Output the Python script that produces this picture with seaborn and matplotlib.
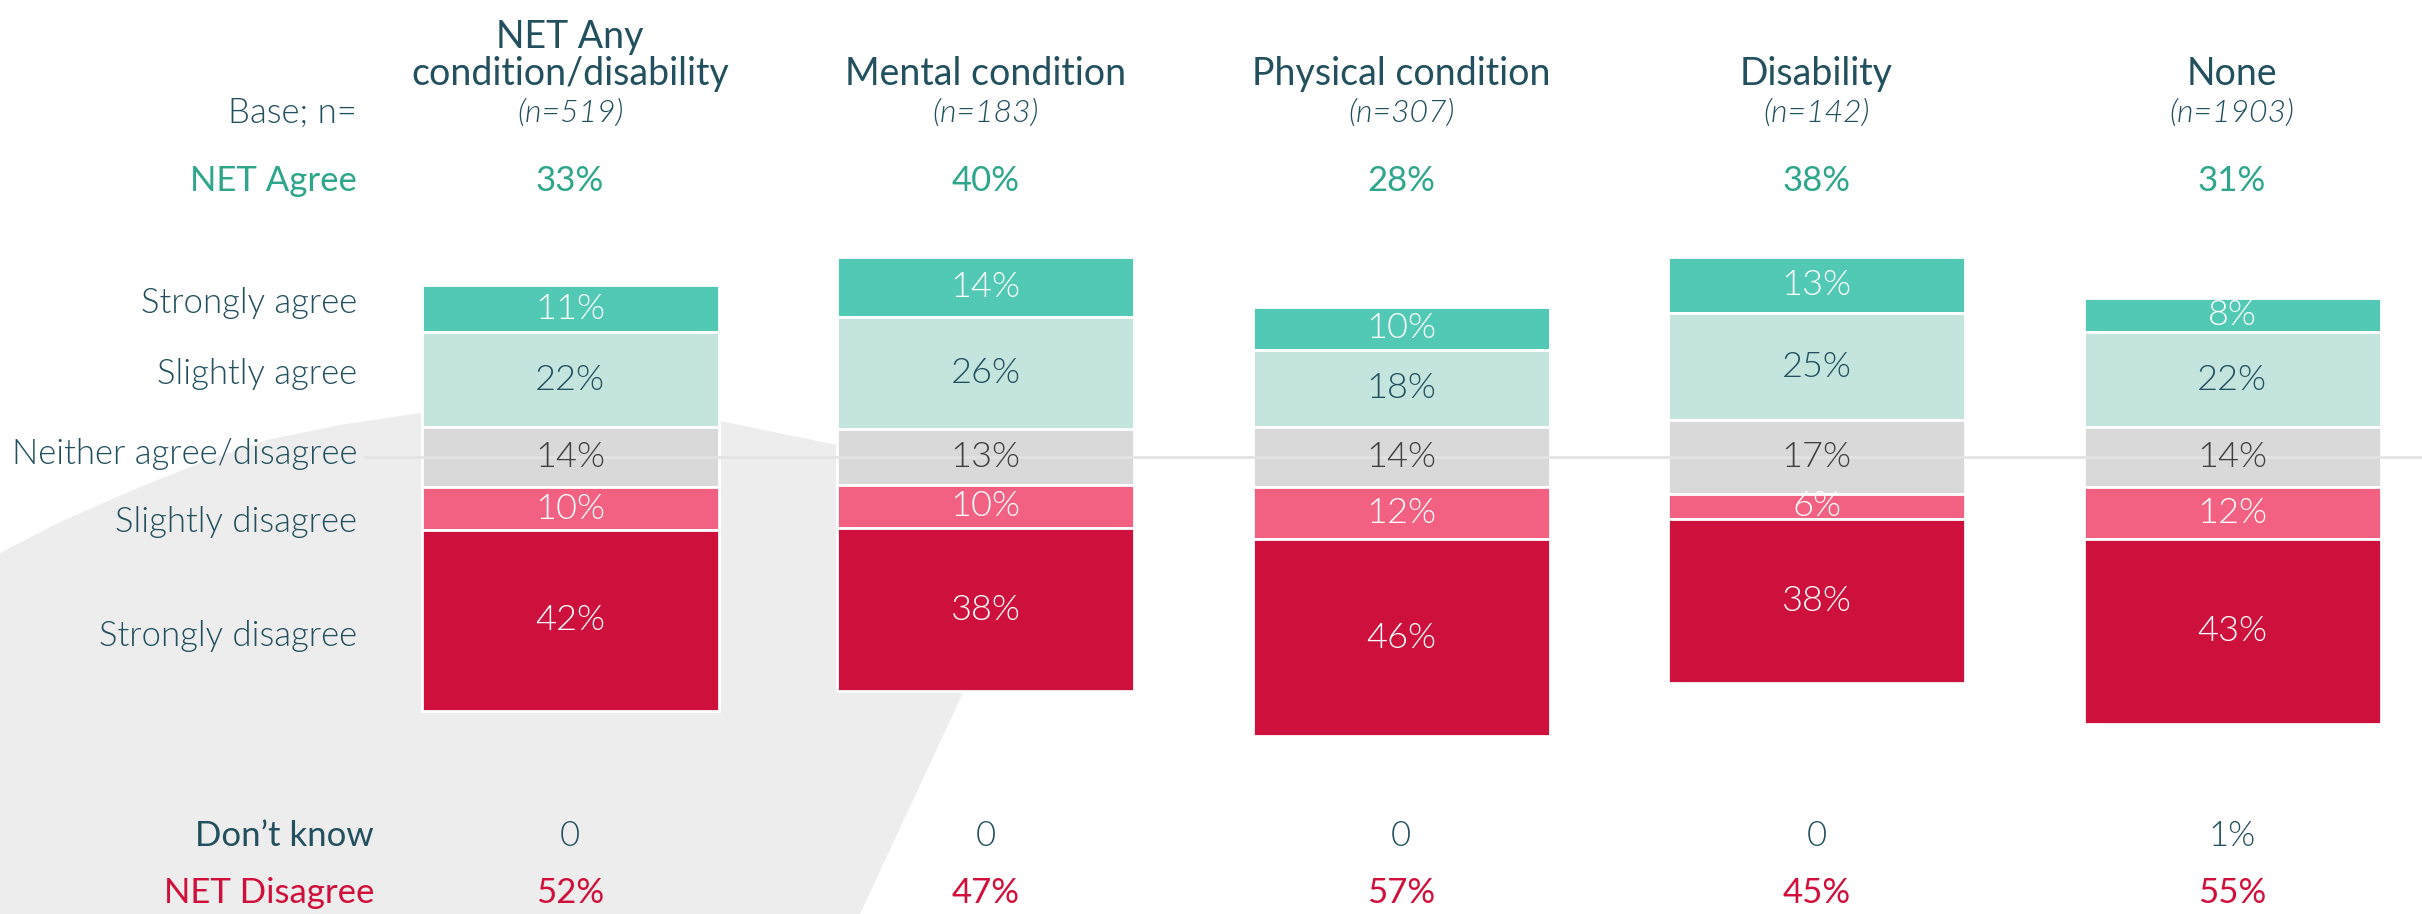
import numpy as np
import pandas as pd
import matplotlib
matplotlib.use("Agg")
import matplotlib.pyplot as plt
import matplotlib.transforms as mtransforms
from matplotlib.patches import Polygon
import seaborn as sns

# data
groups = ["NET Any\ncondition/disability", "Mental condition", "Physical condition", "Disability", "None"]
base_n = [519, 183, 307, 142, 1903]
strongly_agree = [11, 14, 10, 13, 8]
slightly_agree = [22, 26, 18, 25, 22]
neither = [14, 13, 14, 17, 14]
slightly_disagree = [10, 10, 12, 6, 12]
strongly_disagree = [42, 38, 46, 38, 43]
net_agree = [33, 40, 28, 38, 31]
net_disagree = [52, 47, 57, 45, 55]
dont_know = ["0", "0", "0", "0", "1%"]
row_labels = ["Strongly agree", "Slightly agree", "Neither agree/disagree",
              "Slightly disagree", "Strongly disagree"]

sns.set_theme(style="white")
plt.rcParams['font.family'] = ['Lato', 'DejaVu Sans']

TEAL = "#22505F"
GREEN = "#2EA68C"
RED = "#D0103A"
colors = ["#52C9B4", "#C3E5DD", "#D9D9D9", "#F26181", "#CE113C"]
label_colors = ["white", TEAL, "#404040", "white", "white"]
LIGHT = 300

W, H = 2422, 914
fig = plt.figure(figsize=(W / 100, H / 100), dpi=100)
ax = fig.add_axes([0, 0, 1, 1])

# decorative grey swoosh in the background (pixel outline -> axes fraction)
blob = np.array([(0, 553), (60, 522), (133, 490), (200, 463), (267, 440), (340, 425),
                 (420, 413), (520, 409), (620, 413), (720, 421), (837, 445),
                 (962, 695), (860, 914), (0, 914)], dtype=float)
blob[:, 0] /= W
blob[:, 1] = 1 - blob[:, 1] / H
ax.add_patch(Polygon(blob, closed=True, transform=ax.transAxes,
                     facecolor="#EDEDED", edgecolor="none", zorder=0))

# diverging stack centred on the middle of "neither"
sa = np.array(strongly_agree)
sla = np.array(slightly_agree)
nn = np.array(neither)
sld = np.array(slightly_disagree)
sd = np.array(strongly_disagree)
half = nn / 2
segments = [
    (sa, half + sla),
    (sla, half),
    (nn, -half),
    (sld, -half - sld),
    (sd, -half - sld - sd),
]

df_x = pd.Categorical(groups, categories=groups)
for (vals, bottoms), col, lcol in zip(segments, colors, label_colors):
    sns.barplot(x=df_x, y=vals, bottom=bottoms, color=col, saturation=1,
                width=0.715, edgecolor="white", linewidth=2, ax=ax, zorder=2)
    ax.bar_label(ax.containers[-1], labels=[f"{v}%" for v in vals],
                 label_type="center", color=lcol, fontsize=26,
                 fontweight=LIGHT, zorder=5)

ax.set_xlim(-1.372, 4.457)
ax.set_ylim(-106.3, 106.3)
ax.axis("off")

# thin centre line
ax.axhline(0, xmin=365 / W, xmax=1, color="#E3E3E3", lw=2, zorder=3)

colx = mtransforms.blended_transform_factory(ax.transData, ax.transAxes)
lab_x = 357 / W


def fy(ypx):
    return 1 - ypx / H


for i, g in enumerate(groups):
    ax.text(i, fy(85), g, transform=colx, ha="center", va="baseline",
            fontsize=27, color=TEAL, linespacing=1.05)
    ax.text(i, fy(113), f"(n={base_n[i]})", transform=colx, ha="center",
            va="center", fontsize=23, style="italic", fontweight=LIGHT, color=TEAL)
    ax.text(i, fy(181), f"{net_agree[i]}%", transform=colx, ha="center",
            va="center", fontsize=25, color=GREEN)
    ax.text(i, fy(836), dont_know[i], transform=colx, ha="center",
            va="center", fontsize=25, fontweight=LIGHT, color=TEAL)
    ax.text(i, fy(893), f"{net_disagree[i]}%", transform=colx, ha="center",
            va="center", fontsize=25, color=RED)

ax.text(lab_x, fy(113), "Base; n=", transform=ax.transAxes, ha="right",
        va="center", fontsize=25, fontweight=LIGHT, color=TEAL)
ax.text(lab_x, fy(181), "NET Agree", transform=ax.transAxes, ha="right",
        va="center", fontsize=25, color=GREEN)

row_y = [303, 374, 454, 522, 636]
for lbl, y in zip(row_labels, row_y):
    ax.text(lab_x, fy(y), lbl, transform=ax.transAxes, ha="right", va="center",
            fontsize=25, fontweight=LIGHT, color=TEAL)

ax.text(374 / W, fy(836), "Don\u2019t know", transform=ax.transAxes, ha="right",
        va="center", fontsize=25, color=TEAL)
ax.text(374 / W, fy(893), "NET Disagree", transform=ax.transAxes, ha="right",
        va="center", fontsize=25, color=RED)

fig.savefig("out.png", dpi=100, facecolor="white")
